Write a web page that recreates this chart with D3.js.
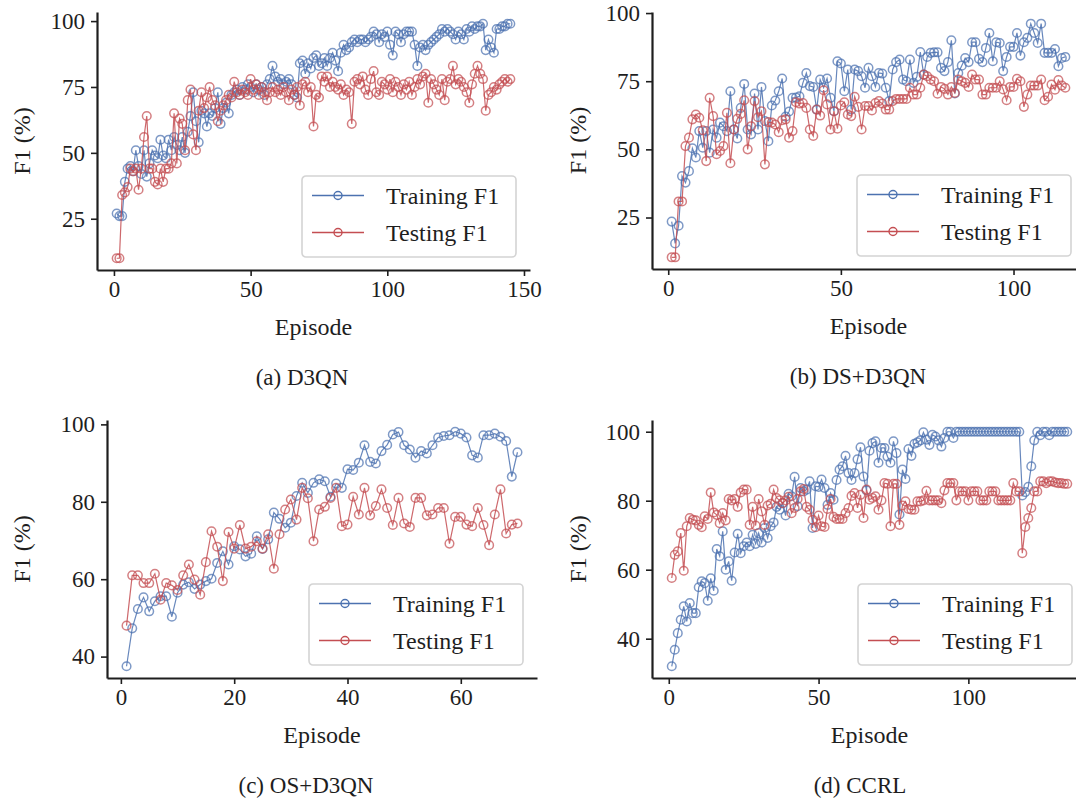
<!DOCTYPE html>
<html>
<head>
<meta charset="utf-8">
<script src="https://cdn.jsdelivr.net/npm/d3@7"></script>
<style>
  body { margin: 0; background: #fff; }
  svg text { font-family: "Liberation Serif", "Times New Roman", serif; fill: #1e1e1e; }
</style>
</head>
<body>
<svg id="fig" width="1076" height="800"></svg>
<script>
// F1 scores per training episode for each method
const d3qnTrain = [27,26,26,39,44,45,43,51,45,42,
  51,41,46,51,49,48,55,49,48,55,
  51,56,53,51,56,50,58,64,73,62,
  54,66,65,60,65,64,67,73,61,67,
  69,65,72,73,74,72,75,74,76,75,
  73,76,74,75,72,76,78,83,79,77,
  78,76,77,78,76,72,71,84,85,80,
  84,82,86,87,83,84,86,83,86,88,
  85,81,88,91,89,90,92,93,92,93,
  93,92,93,94,96,95,92,95,94,96,
  91,87,96,95,92,95,96,96,96,91,
  83,90,91,89,91,92,93,94,95,97,
  96,97,96,95,93,96,95,93,97,96,
  98,97,98,98,99,89,93,90,88,97,
  97,98,98,99,99];
const d3qnTest = [10,10,34,35,37,44,43,44,36,44,
  56,64,44,44,39,38,44,39,44,44,
  46,65,46,63,61,51,70,74,57,51,
  66,73,67,71,75,70,68,62,66,68,
  70,72,71,77,73,72,74,73,72,78,
  74,76,72,75,73,70,73,75,73,74,
  72,75,73,70,74,72,75,68,76,77,
  73,75,60,72,71,79,77,79,75,77,
  75,74,76,72,74,73,61,77,78,76,
  79,74,72,78,81,73,72,77,76,74,
  78,73,77,75,72,76,74,77,72,75,
  78,76,79,80,69,78,76,74,72,78,
  70,77,78,83,76,78,77,75,73,69,
  76,80,83,80,78,66,72,73,75,74,
  76,77,78,77,78];

const dsTrain = [23.5,15.5,22,40.2,37.8,42,50.4,47,56.7,50.6,
  56.7,48.8,57.3,54.3,59.8,58.5,56.7,71.3,57.3,54,
  65.2,74,57.3,55.5,70.5,57.3,72.9,60.4,53,66.1,
  67.9,71.3,76,62,63.9,68.9,69,69.5,74.4,78,
  73.2,72.9,64.6,75.6,72.6,76,68.9,64,82.3,81.5,
  71.3,79.3,64.6,79.3,78.7,76.8,72.6,79.9,76.8,72.9,
  78,77.8,72.6,67.7,79.3,82,82.9,75.6,75,82.9,
  74.4,76.6,85.7,77.4,83.9,85.4,85.6,85.6,79.9,78.7,
  82,90,70.5,78,80.7,83.5,82,89.3,89.3,83.2,
  82,87.2,92.7,82.3,89.3,89,78.7,83.9,87.6,87.6,
  92.7,84.4,89.3,90.9,96.1,92.7,89,96.1,85.4,85.4,
  85.4,86.8,80.5,83.5,83.9];
const dsTest = [10.4,10.4,30.9,30.9,51.2,54.3,61,62.8,61.6,57,
  45.7,68.9,62.2,48.2,49.4,51.2,63.4,44.9,57.3,61.2,
  63,68,50,58.5,67.7,61.8,64,44.5,60,59.8,
  59.1,56.3,60.7,61,54.3,56.7,67.3,66.8,67,65.2,
  57.3,54.9,64.6,62.4,71.7,66.5,57.3,64,57.6,66.1,
  67.3,62.8,62.2,69.3,65.6,57.3,65.9,65.9,64.3,67,
  67.7,66.8,64.6,64.6,67.7,68.5,68.5,68.5,68.5,72.6,
  70.1,70.1,72.6,77.4,76.8,75.6,75,70.4,72.9,72.2,
  70.1,72.9,70.7,75.6,75,74.4,72.9,77.4,75.6,75.6,
  70.1,70.1,72.6,72.6,72.6,75,72,68,72.9,72.9,
  75.9,75,65.6,70.1,73.4,73.4,73.4,75.6,68,69.3,
  73.8,71.9,75.4,73.4,72.6];

const osTrain = [37.5,47.3,52.3,55.3,51.7,54.3,55.6,55.6,50.3,56.5,
  58.6,59.2,57.5,58.6,59.5,60.1,64.2,67.2,63.8,68.5,
  67.7,65.9,66.6,71.1,67.8,70.3,77.2,75.6,73.3,74.6,
  81.5,84.9,82.3,84.9,85.8,85.3,81.3,84.7,83.6,88.4,
  88.2,90.1,94.6,90.3,89.9,93.1,94.7,97.4,98,94.6,
  93.5,91.4,93.1,92.5,94.6,96.6,97,97.2,98.1,97.6,
  96.6,92,91.4,97.2,97.2,97.6,96.8,95.7,86.5,92.8];
const osTest = [48,61,61,59,59,61.4,54.7,59,58.4,57.2,
  61,63.8,59.9,56,64.4,72.4,68.4,59.5,72.2,67.9,
  74,67.9,68.4,69.8,67.9,71.6,62.7,71.6,78,80.6,
  75.4,83.6,80.9,69.8,78,78.7,81,83.6,73.7,74.1,
  81.3,76.7,83.6,76.5,78.9,83.2,78.4,74,81,74.4,
  73.5,81,81,76.5,76.7,78.4,78.4,69.2,76.1,76.1,
  74.1,73.7,78.4,74,68.8,76.7,83.2,71.8,74.1,74.4];

const ccrlTrain = [32,36.8,41.6,45.5,49.4,45,50.3,47.4,47.4,54.9,
  56.6,56.1,51,57.5,53.9,66,63.9,71.1,60,62.4,
  56.8,65,70.4,64.8,66.8,67.9,66.8,70.1,67.5,70.6,
  67.9,72.1,69.2,72.6,73.7,78.2,77.4,79.3,75.7,82,
  81.3,86.9,78.4,83.7,82.7,83.2,85.6,72.1,84.2,84,
  86.1,83.7,78.8,82.2,80.3,86,89,90,93,88,
  86,88,92,95.5,87,83,94.5,96.7,97.2,91,
  95.3,95.3,92.8,91,97.2,93.8,76,89,86.3,95,
  93,96.5,96.9,97.5,99.8,97.7,96.2,99.1,98.6,97.5,
  95.7,98.2,100,100,98.2,100,100,100,100,100,
  100,100,100,100,100,100,100,100,100,100,
  100,100,100,100,100,100,100,81.5,82.5,84,
  90,97.5,100,99,100,100,99,100,100,100,
  100,100,100];
const ccrlTest = [57.6,64.3,65.3,70.6,59.7,72.6,75,74.5,74.3,73,
  72.3,75.5,74.7,82.4,76.6,75.9,73.5,76.4,74.3,80.5,
  80.1,80.5,78.2,82.4,83.2,83.2,73,78.2,72.8,80.5,
  76.9,73,78.6,79.1,83.2,80.8,80.1,79.3,80.1,81.1,
  76.4,77.9,80.5,82.7,83.4,78.2,77.4,74.5,72.3,75.7,
  72.6,72.4,77.6,80.5,75.3,74.7,74.7,74.7,76.4,77.9,
  81.4,82.2,77.9,81.7,75,83.2,80.3,80.8,81.3,77.4,
  80.1,85.1,84.9,72.6,84.9,84.9,73,78.6,79.8,77.6,
  77.4,77.4,79.8,79.8,80.1,82.9,80.1,80.1,80.1,80.1,
  79.3,83,85.1,85.1,85.1,80.1,82.7,82.7,82.7,80.1,
  82.7,82.7,82.7,80.1,80.1,80.1,82.7,82.7,82.7,80.1,
  80.1,80.1,80.1,80.1,85.1,82.7,82.7,64.8,72.4,75,
  77.9,82.7,82.7,85.6,85.6,85.1,85.6,85.6,85.3,85.1,
  85.1,84.9,84.9];

// Tick labels and captions
const xTicksA = [0, 50, 100, 150], yTicksA = [25, 50, 75, 100];
const xTicksB = [0, 50, 100],      yTicksB = [25, 50, 75, 100];
const xTicksC = [0, 20, 40, 60],   yTicksC = [40, 60, 80, 100];
const xTicksD = [0, 50, 100],      yTicksD = [40, 60, 80, 100];
const captions = ["(a) D3QN", "(b) DS+D3QN", "(c) OS+D3QN", "(d) CCRL"];
const seriesNames = ["Training F1", "Testing F1"];
const xLabel = "Episode", yLabel = "F1 (%)";

const BLUE = "#4c72b0", RED = "#c44e52", INK = "#1e1e1e";

// Subplot layout: plot-area rectangle plus caption and y-label anchors
const panels = [
  { train: d3qnTrain, test: d3qnTest, xt: xTicksA, yt: yTicksA, cap: captions[0],
    box: { l: 97,  r: 530,  t: 12,  b: 270 }, capX: 302, yLabX: 30 },
  { train: dsTrain,   test: dsTest,   xt: xTicksB, yt: yTicksB, cap: captions[1],
    box: { l: 652, r: 1085, t: 12,  b: 269 }, capX: 858, yLabX: 586 },
  { train: osTrain,   test: osTest,   xt: xTicksC, yt: yTicksC, cap: captions[2],
    box: { l: 107, r: 537,  t: 420, b: 678 }, capX: 306, yLabX: 30 },
  { train: ccrlTrain, test: ccrlTest, xt: xTicksD, yt: yTicksD, cap: captions[3],
    box: { l: 652, r: 1087, t: 420, b: 678 }, capX: 860, yLabX: 586 }
];

const svg = d3.select("#fig");

panels.forEach(p => {
  const n = p.train.length;
  const xPad = 0.05 * (n - 1);
  const x = d3.scaleLinear().domain([1 - xPad, n + xPad]).range([p.box.l, p.box.r]);
  const [lo, hi] = d3.extent(p.train.concat(p.test));
  const yPad = 0.05 * (hi - lo);
  const y = d3.scaleLinear().domain([lo - yPad, hi + yPad]).range([p.box.b, p.box.t]);

  const g = svg.append("g");

  // Data series: thin line with open circle markers
  const line = d3.line().x((d, i) => x(i + 1)).y(d => y(d));
  [[p.train, BLUE], [p.test, RED]].forEach(([vals, col]) => {
    const s = g.append("g");
    s.append("path").datum(vals).attr("d", line)
      .attr("fill", "none").attr("stroke", col)
      .attr("stroke-width", 1.2).attr("stroke-opacity", 0.85);
    s.selectAll("circle").data(vals).join("circle")
      .attr("cx", (d, i) => x(i + 1)).attr("cy", d => y(d)).attr("r", 4.3)
      .attr("fill", "none").attr("stroke", col)
      .attr("stroke-width", 1.5).attr("stroke-opacity", 0.72);
  });

  // Axes (left and bottom spines only)
  const styleAxis = sel => {
    sel.select(".domain").attr("stroke", INK).attr("stroke-width", 2.2);
    sel.selectAll(".tick line").attr("stroke", INK).attr("stroke-width", 1.6);
    sel.selectAll(".tick text").attr("fill", INK).attr("font-size", 23)
      .attr("font-family", "Liberation Serif, Times New Roman, serif");
  };
  g.append("g").attr("transform", `translate(0,${p.box.b})`)
    .call(d3.axisBottom(x).tickValues(p.xt).tickFormat(d3.format("d"))
      .tickSize(6).tickSizeOuter(0).tickPadding(5))
    .call(styleAxis);
  g.append("g").attr("transform", `translate(${p.box.l},0)`)
    .call(d3.axisLeft(y).tickValues(p.yt).tickFormat(d3.format("d"))
      .tickSize(6).tickSizeOuter(0).tickPadding(6))
    .call(styleAxis);

  // Axis labels and caption
  g.append("text").attr("x", (p.box.l + p.box.r) / 2).attr("y", p.box.b + 65)
    .attr("text-anchor", "middle").attr("font-size", 24).text(xLabel);
  g.append("text")
    .attr("transform", `translate(${p.yLabX},${(p.box.t + p.box.b) / 2}) rotate(-90)`)
    .attr("text-anchor", "middle").attr("font-size", 24).text(yLabel);
  g.append("text").attr("x", p.capX).attr("y", p.box.b + 115)
    .attr("text-anchor", "middle").attr("font-size", 23).text(p.cap);

  // Legend, lower right
  const lw = 214, lh = 81;
  const lx = Math.min(p.box.r, 1086) - 14 - lw, ly = p.box.b - 13 - lh;
  const lg = g.append("g").attr("transform", `translate(${lx},${ly})`);
  lg.append("rect").attr("width", lw).attr("height", lh).attr("rx", 4)
    .attr("fill", "#fff").attr("fill-opacity", 0.85)
    .attr("stroke", "#d4d4d4").attr("stroke-width", 1.6);
  [BLUE, RED].forEach((col, k) => {
    const ry = 19.5 + k * 37;
    lg.append("line").attr("x1", 10).attr("x2", 62).attr("y1", ry).attr("y2", ry)
      .attr("stroke", col).attr("stroke-width", 1.3);
    lg.append("circle").attr("cx", 36).attr("cy", ry).attr("r", 4)
      .attr("fill", "none").attr("stroke", col).attr("stroke-width", 1.4);
    lg.append("text").attr("x", 84).attr("y", ry + 8.5)
      .attr("font-size", 24).text(seriesNames[k]);
  });
});
</script>
</body>
</html>
